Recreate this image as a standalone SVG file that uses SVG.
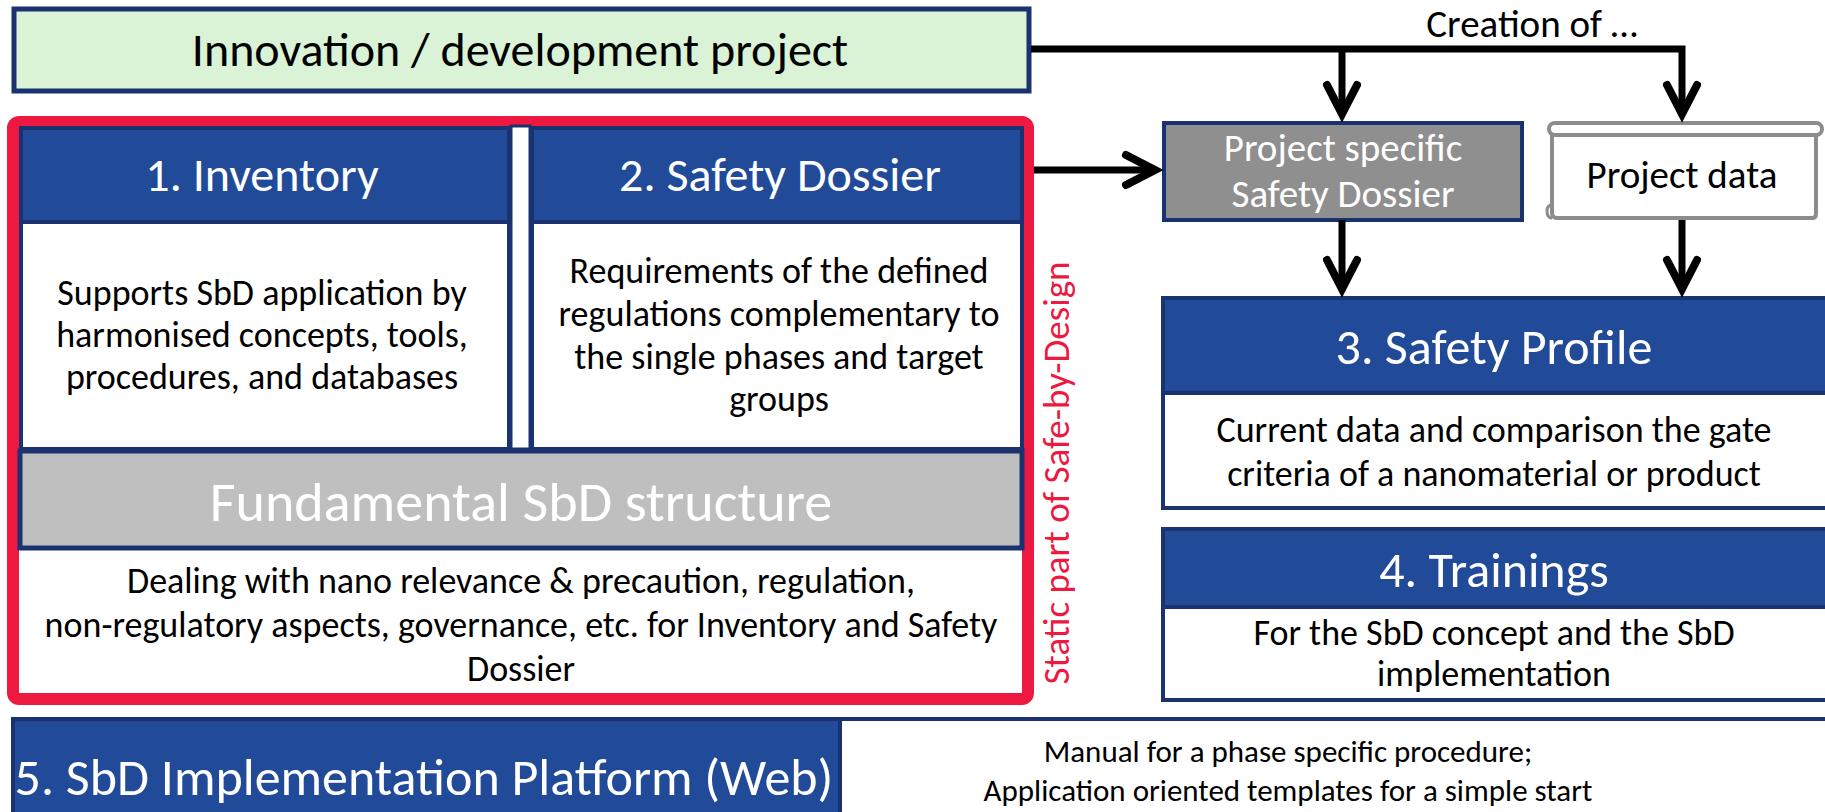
<svg xmlns="http://www.w3.org/2000/svg" width="1825" height="812" viewBox="0 0 1825 812">
<style>
text{font-family:Carlito,Lato,"Liberation Sans",sans-serif;text-anchor:middle}
.hd{fill:#214a98;stroke:#1a3370;stroke-width:4}
.bd{fill:#ffffff;stroke:#1a3370;stroke-width:4}
.wt{fill:#ffffff}
.bk{fill:#000000}
.ttl{font-size:48px}
.ttl2{font-size:50px}
.body{font-size:36px}
.conn{fill:none;stroke:#000;stroke-width:7;stroke-linejoin:miter}
</style>
<defs>
<marker id="arr" markerUnits="userSpaceOnUse" markerWidth="50" markerHeight="50" refX="36" refY="25" orient="auto" viewBox="0 0 50 50">
<path d="M7,10 L36,25 L7,40" fill="none" stroke="#000" stroke-width="8" stroke-linecap="round" stroke-linejoin="miter"/>
</marker>
</defs>
<rect width="1825" height="812" fill="#ffffff"/>

<g id="innovation">
<rect x="14" y="9" width="1015" height="82" fill="#daf2d6" stroke="#1a3370" stroke-width="5"/>
<text x="520" y="66" class="bk" style="font-size:48px">Innovation / development project</text>
</g>

<g id="creation-label">
<text x="1532" y="37" class="bk" style="font-size:39px">Creation of …</text>
</g>

<g id="static-part">
<rect x="13" y="122" width="1015" height="577" rx="6" fill="none" stroke="#ed1941" stroke-width="12"/>
<text transform="translate(1069,473) rotate(-90)" x="0" y="0" style="font-size:37px;fill:#ed1941">Static part of Safe-by-Design</text>
</g>

<g id="inventory">
<rect x="21" y="128" width="488" height="94" class="hd"/>
<rect x="21" y="222" width="488" height="227" class="bd"/>
<text x="262" y="191" class="wt ttl">1. Inventory</text>
<text x="262" y="305" class="bk body">Supports SbD application by</text>
<text x="262" y="347" class="bk body">harmonised concepts, tools,</text>
<text x="262" y="389" class="bk body">procedures, and databases</text>
</g>

<g id="gap">
<rect x="511" y="126" width="19" height="323" fill="#ffffff" stroke="#1a3370" stroke-width="3"/>
</g>

<g id="safety-dossier">
<rect x="532" y="128" width="490" height="94" class="hd"/>
<rect x="532" y="222" width="490" height="227" class="bd"/>
<text x="780" y="191" class="wt ttl">2. Safety Dossier</text>
<text x="779" y="283" class="bk body">Requirements of the defined</text>
<text x="779" y="326" class="bk body">regulations complementary to</text>
<text x="779" y="369" class="bk body">the single phases and target</text>
<text x="779" y="411" class="bk body">groups</text>
</g>

<g id="fundamental">
<rect x="20" y="451" width="1002" height="97" fill="#bfbfbf" stroke="#1a3370" stroke-width="5"/>
<rect x="20" y="551" width="1002" height="142" fill="#ffffff"/>
<text x="521" y="521" class="wt" style="font-size:56px">Fundamental SbD structure</text>
<text x="521" y="593" class="bk body">Dealing with nano relevance &amp; precaution, regulation,</text>
<text x="521" y="637" class="bk body">non-regulatory aspects, governance, etc. for Inventory and Safety</text>
<text x="521" y="681" class="bk body">Dossier</text>
</g>

<g id="project-specific">
<rect x="1164" y="123" width="358" height="97" fill="#8f8f8f" stroke="#1a3370" stroke-width="4"/>
<text x="1343" y="161" class="wt" style="font-size:39px">Project specific</text>
<text x="1343" y="207" class="wt" style="font-size:39px">Safety Dossier</text>
</g>

<g id="project-data">
<path d="M1552,130 H1816 V214 Q1816,218 1812,218 H1557 Q1552,218 1552,213 Z" fill="#ffffff" stroke="#8c8c8c" stroke-width="4"/>
<rect x="1549" y="123" width="273" height="12" rx="6" fill="#ffffff" stroke="#8c8c8c" stroke-width="4"/>
<path d="M1552,205 Q1547,205 1547,211 Q1547,218 1552,218" fill="none" stroke="#8c8c8c" stroke-width="3"/>
<text x="1682" y="188" class="bk" style="font-size:39px">Project data</text>
</g>

<g id="safety-profile">
<rect x="1163" y="298" width="670" height="95" class="hd"/>
<rect x="1163" y="393" width="670" height="115" class="bd"/>
<text x="1494" y="364" class="wt ttl2">3. Safety Profile</text>
<text x="1494" y="442" class="bk body">Current data and comparison the gate</text>
<text x="1494" y="486" class="bk body">criteria of a nanomaterial or product</text>
</g>

<g id="trainings">
<rect x="1163" y="529" width="670" height="78" class="hd"/>
<rect x="1163" y="607" width="670" height="93" class="bd"/>
<text x="1494" y="587" class="wt ttl2">4. Trainings</text>
<text x="1494" y="645" class="bk body">For the SbD concept and the SbD</text>
<text x="1494" y="686" class="bk body">implementation</text>
</g>

<g id="platform">
<rect x="13" y="719" width="827" height="100" class="hd"/>
<rect x="840" y="719" width="990" height="100" class="bd"/>
<text x="424" y="795" class="wt" style="font-size:52px">5. SbD Implementation Platform (Web)</text>
<text x="1288" y="762" class="bk" style="font-size:31px">Manual for a phase specific procedure;</text>
<text x="1288" y="801" class="bk" style="font-size:31px">Application oriented templates for a simple start</text>
</g>

<g id="connectors">
<path class="conn" d="M1031,49 H1682 V114" marker-end="url(#arr)"/>
<path class="conn" d="M1342,49 V114" marker-end="url(#arr)"/>
<path class="conn" d="M1034,170 H1155" marker-end="url(#arr)"/>
<path class="conn" d="M1342,220 V289" marker-end="url(#arr)"/>
<path class="conn" d="M1682,220 V289" marker-end="url(#arr)"/>
</g>
</svg>
